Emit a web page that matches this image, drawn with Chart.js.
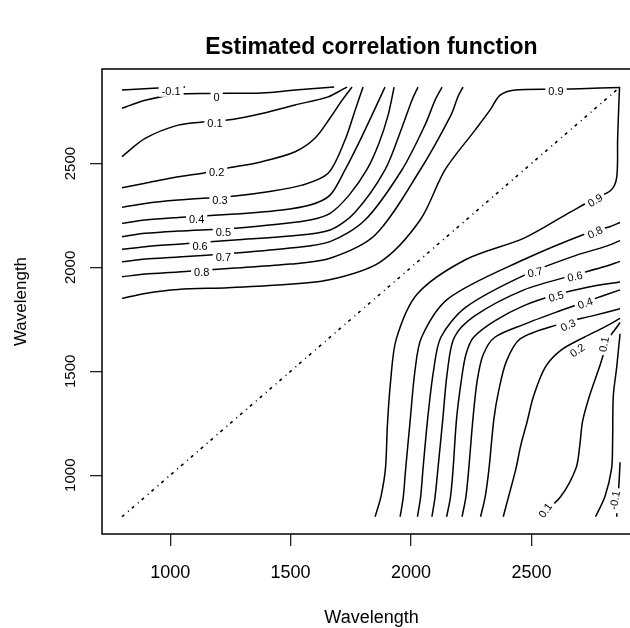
<!DOCTYPE html>
<html><head><meta charset="utf-8">
<script src="https://cdn.jsdelivr.net/npm/chart.js@4.4.1/dist/chart.umd.min.js"></script>
<style>html,body{margin:0;padding:0;background:#fff;overflow:hidden;width:630px;height:628px}canvas{display:block}</style>
</head><body>
<canvas id="c" width="660" height="628"></canvas>
<script>
const xTicks = [1000, 1500, 2000, 2500];
const yTicks = [1000, 1500, 2000, 2500];
const levels = ['-0.1','0','0.1','0.2','0.3','0.4','0.5','0.6','0.7','0.8','0.9'];

// upper-left contours
const tlM01X = [800, 950, 1062];
const tlM01Y = [2854, 2863, 2868];
const tlZ00X = [800, 896, 1033, 1157, 1381, 1519, 1681];
const tlZ00Y = [2766, 2805, 2833, 2837, 2840, 2854, 2868];
const tlP01X = [800, 896, 1033, 1145, 1257, 1381, 1519, 1656, 1718, 1735];
const tlP01Y = [2533, 2621, 2685, 2701, 2712, 2741, 2782, 2821, 2858, 2868];
const tlP02X = [800, 896, 1033, 1145, 1257, 1381, 1519, 1602, 1664, 1714, 1755];
const tlP02Y = [2383, 2405, 2436, 2456, 2482, 2509, 2557, 2623, 2719, 2805, 2868];
const tlP03X = [800, 896, 1033, 1269, 1406, 1548, 1656, 1726, 1768, 1801];
const tlP03Y = [2289, 2308, 2324, 2344, 2364, 2396, 2453, 2613, 2757, 2868];
const tlP04X = [800, 896, 1033, 1269, 1456, 1581, 1664, 1726, 1789, 1838, 1892];
const tlP04Y = [2212, 2228, 2240, 2257, 2275, 2300, 2348, 2469, 2613, 2733, 2868];
const tlP05X = [800, 896, 1033, 1269, 1456, 1581, 1664, 1743, 1816, 1867, 1905, 1930];
const tlP05Y = [2148, 2164, 2175, 2189, 2209, 2228, 2260, 2348, 2469, 2598, 2733, 2868];
const tlP06X = [800, 896, 1033, 1269, 1498, 1664, 1768, 1892, 1963, 2004, 2029];
const tlP06Y = [2087, 2100, 2112, 2132, 2151, 2180, 2266, 2469, 2675, 2805, 2868];
const tlP07X = [800, 896, 1033, 1269, 1498, 1664, 1809, 1962, 2058, 2100, 2129];
const tlP07Y = [2027, 2040, 2050, 2069, 2093, 2124, 2228, 2469, 2685, 2805, 2868];
const tlP08X = [800, 896, 1033, 1269, 1498, 1664, 1851, 2038, 2166, 2196, 2216];
const tlP08Y = [1955, 1968, 1978, 1997, 2016, 2044, 2156, 2469, 2733, 2825, 2868];
const tlP09X = [800, 896, 1033, 1240, 1448, 1656, 1872, 2038, 2141, 2266, 2328, 2370, 2432, 2619, 2785, 2868];
const tlP09Y = [1851, 1875, 1894, 1902, 1915, 1939, 2026, 2228, 2469, 2661, 2757, 2829, 2854, 2858, 2863, 2866];

// lower-right contours
const brM01X = [2854, 2863, 2868];
const brM01Y = [800, 950, 1062];
const brZ00X = [2766, 2805, 2833, 2837, 2840, 2854, 2868];
const brZ00Y = [800, 896, 1033, 1157, 1381, 1519, 1681];
const brP01X = [2533, 2621, 2685, 2701, 2712, 2741, 2782, 2821, 2858, 2868];
const brP01Y = [800, 896, 1033, 1145, 1257, 1381, 1519, 1656, 1718, 1735];
const brP02X = [2383, 2405, 2436, 2456, 2482, 2509, 2557, 2623, 2719, 2805, 2868];
const brP02Y = [800, 896, 1033, 1145, 1257, 1381, 1519, 1602, 1664, 1714, 1755];
const brP03X = [2289, 2308, 2324, 2344, 2364, 2396, 2453, 2613, 2757, 2868];
const brP03Y = [800, 896, 1033, 1269, 1406, 1548, 1656, 1726, 1768, 1801];
const brP04X = [2212, 2228, 2240, 2257, 2275, 2300, 2348, 2469, 2613, 2733, 2868];
const brP04Y = [800, 896, 1033, 1269, 1456, 1581, 1664, 1726, 1789, 1838, 1892];
const brP05X = [2148, 2164, 2175, 2189, 2209, 2228, 2260, 2348, 2469, 2598, 2733, 2868];
const brP05Y = [800, 896, 1033, 1269, 1456, 1581, 1664, 1743, 1816, 1867, 1905, 1930];
const brP06X = [2087, 2100, 2112, 2132, 2151, 2180, 2266, 2469, 2675, 2805, 2868];
const brP06Y = [800, 896, 1033, 1269, 1498, 1664, 1768, 1892, 1963, 2004, 2029];
const brP07X = [2027, 2040, 2050, 2069, 2093, 2124, 2228, 2469, 2685, 2805, 2868];
const brP07Y = [800, 896, 1033, 1269, 1498, 1664, 1809, 1962, 2058, 2100, 2129];
const brP08X = [1955, 1968, 1978, 1997, 2016, 2044, 2156, 2469, 2733, 2825, 2868];
const brP08Y = [800, 896, 1033, 1269, 1498, 1664, 1851, 2038, 2166, 2196, 2216];
const brP09X = [1851, 1875, 1894, 1902, 1915, 1939, 2026, 2228, 2469, 2661, 2757, 2829, 2854, 2858, 2863, 2866];
const brP09Y = [800, 896, 1033, 1240, 1448, 1656, 1872, 2038, 2141, 2266, 2328, 2370, 2432, 2619, 2785, 2868];

// diagonal (level 1)
const diagX = [800, 2862];
const diagY = [800, 2862];

// contour label anchors (data units)
const labelText = ['-0.1','0','0.1','0.2','0.3','0.4','0.5','0.6','0.7','0.8','0.9',
                   '0.9','0.8','0.7','0.6','0.5','0.4','0.3','0.2','0.1','0.1','-0.1'];
const labelX = [1004,1193,1186,1193,1207,1110,1221,1124,1221,1131,2602,
                2764,2764,2515,2681,2602,2723,2652,2690,2800,2557,2845];
const labelY = [2850,2821,2693,2460,2324,2231,2172,2104,2049,1976,2849,
                2324,2170,1978,1958,1862,1829,1723,1602,1630,832,880];
const labelAngle = [0,0,0,0,0,0,0,0,0,0,0,
                    -30,-25,-12,-12,-15,-20,-25,-35,-80,-55,-80];

const FONT = "'Liberation Sans', Arial, Helvetica, sans-serif";

const lines = [
  [tlM01X,tlM01Y],[tlZ00X,tlZ00Y],[tlP01X,tlP01Y],[tlP02X,tlP02Y],[tlP03X,tlP03Y],[tlP04X,tlP04Y],
  [tlP05X,tlP05Y],[tlP06X,tlP06Y],[tlP07X,tlP07Y],[tlP08X,tlP08Y],[tlP09X,tlP09Y],
  [brM01X,brM01Y],[brZ00X,brZ00Y],[brP01X,brP01Y],[brP02X,brP02Y],[brP03X,brP03Y],[brP04X,brP04Y],
  [brP05X,brP05Y],[brP06X,brP06Y],[brP07X,brP07Y],[brP08X,brP08Y],[brP09X,brP09Y]
];
const datasets = lines.map(([xs, ys]) => ({
  data: xs.map((v, i) => ({x: v, y: ys[i]})),
  showLine: true, pointRadius: 0, borderColor: '#000', borderWidth: 1.5,
  tension: 0.3, fill: false
}));
datasets.push({
  data: diagX.map((v, i) => ({x: v, y: diagY[i]})),
  showLine: true, pointRadius: 0, borderColor: '#000', borderWidth: 1.6,
  borderDash: [3, 5, 1, 4], fill: false
});

const decor = {
  id: 'decor',
  afterDatasetsDraw(chart) {
    const {ctx, chartArea: a, scales: {x, y}} = chart;
    ctx.save();
    ctx.beginPath(); ctx.rect(a.left, a.top, a.right - a.left, a.bottom - a.top); ctx.clip();
    ctx.font = '11px ' + FONT;
    ctx.textAlign = 'center'; ctx.textBaseline = 'middle';
    labelText.forEach((t, i) => {
      const px = x.getPixelForValue(labelX[i]);
      const py = y.getPixelForValue(labelY[i]);
      ctx.save();
      ctx.translate(px, py);
      ctx.rotate(labelAngle[i] * Math.PI / 180);
      const w = ctx.measureText(t).width;
      ctx.fillStyle = '#fff';
      ctx.fillRect(-w / 2 - 3, -6, w + 6, 12);
      ctx.fillStyle = '#000';
      ctx.fillText(t, 0, 1);
      ctx.restore();
    });
    ctx.restore();
    ctx.save();
    ctx.strokeStyle = '#000'; ctx.lineWidth = 1.5;
    ctx.strokeRect(a.left, a.top, a.right - a.left, a.bottom - a.top);
    ctx.fillStyle = '#000';
    ctx.font = 'bold 23px ' + FONT;
    ctx.textAlign = 'center'; ctx.textBaseline = 'middle';
    ctx.fillText('Estimated correlation function', (a.left + a.right) / 2, 48);
    ctx.restore();
  }
};

new Chart(document.getElementById('c'), {
  type: 'scatter',
  data: {datasets},
  options: {
    responsive: false, animation: false, devicePixelRatio: 1,
    layout: {padding: {left: 0, top: 69, right: 19, bottom: 0}},
    plugins: {legend: {display: false}, tooltip: {enabled: false}, title: {display: false}},
    scales: {
      x: {
        type: 'linear', position: 'bottom', min: 717, max: 2955,
        afterBuildTicks: s => { s.ticks = xTicks.map(v => ({value: v})); },
        afterFit: s => { s.height = 94; },
        grid: {drawOnChartArea: false, drawTicks: true, tickLength: 12, color: '#222', lineWidth: 1.3},
        border: {display: false},
        ticks: {color: '#000', font: {family: FONT, size: 18}, padding: 16, maxRotation: 0, minRotation: 0,
                callback: v => String(v)},
        title: {display: true, text: 'Wavelength', color: '#000', font: {family: FONT, size: 18, lineHeight: 1}, padding: {top: 0, bottom: 1}}
      },
      y: {
        type: 'linear', position: 'left', min: 717, max: 2955,
        afterBuildTicks: s => { s.ticks = yTicks.map(v => ({value: v})); },
        afterFit: s => { s.width = 102; },
        grid: {drawOnChartArea: false, drawTicks: true, tickLength: 12, color: '#222', lineWidth: 1.3},
        border: {display: false},
        ticks: {color: '#000', font: {family: FONT, size: 15}, padding: 2, minRotation: 90, maxRotation: 90,
                crossAlign: 'center', callback: v => String(v)},
        title: {display: true, text: 'Wavelength', color: '#000', font: {family: FONT, size: 17, lineHeight: 1}, padding: {top: 13, bottom: 0}}
      }
    }
  },
  plugins: [decor]
});
</script>
</body></html>
